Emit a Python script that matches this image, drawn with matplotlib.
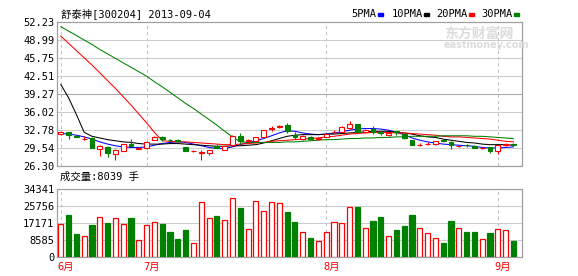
import matplotlib
matplotlib.use("Agg")
import matplotlib.pyplot as plt
from matplotlib.patches import Rectangle

# daily candles, mid June .. 2013-09-04 (one entry per trading day)
opens = [31.95, 32.3, 31.6, 31.15, 31.3, 29.4, 29.7, 28.5, 29.0, 30.3,
         29.35, 29.5, 31.0, 31.5, 30.95, 30.9, 29.6, 28.9, 28.65, 28.6,
         29.8, 29.2, 30.0, 31.6, 30.75, 30.8, 31.5, 32.95, 33.3, 33.6,
         31.9, 31.1, 31.5, 31.15, 31.5, 32.35, 32.4, 33.1, 33.8, 32.4,
         32.85, 32.4, 31.8, 32.5, 32.0, 30.9, 30.0, 30.2, 30.2, 30.85,
         30.6, 29.8, 30.05, 29.9, 29.45, 29.6, 29.0, 30.05, 30.15]
closes = [32.35, 31.9, 31.55, 31.2, 29.5, 29.8, 28.6, 29.1, 30.2, 29.9,
          29.5, 30.6, 31.5, 31.1, 30.9, 30.8, 28.9, 29.0, 28.75, 29.1,
          29.55, 29.9, 31.7, 30.7, 30.85, 31.4, 32.7, 33.05, 33.4, 32.6,
          31.4, 31.65, 31.05, 31.25, 32.0, 32.45, 33.3, 33.8, 32.4, 32.75,
          32.4, 32.2, 32.25, 32.4, 31.3, 30.0, 30.1, 30.3, 30.7, 30.75,
          30.1, 29.9, 30.0, 29.5, 29.55, 29.0, 29.95, 30.15, 30.1]
highs = [32.6, 32.4, 31.8, 31.6, 31.4, 30.0, 29.8, 29.3, 30.3, 31.2,
         29.6, 30.7, 31.6, 31.7, 31.1, 31.2, 29.7, 29.2, 29.1, 29.2,
         30.2, 30.1, 31.8, 32.2, 31.1, 31.5, 32.8, 33.4, 33.6, 34.0,
         32.3, 31.9, 31.6, 31.4, 32.1, 32.7, 33.4, 34.3, 33.9, 32.9,
         33.4, 32.5, 32.3, 32.6, 32.1, 31.0, 30.4, 30.5, 30.8, 31.0,
         30.7, 30.1, 30.2, 30.0, 29.7, 29.7, 30.0, 30.4, 30.4]
lows = [31.9, 31.1, 31.4, 30.9, 29.5, 28.0, 27.8, 27.4, 28.9, 29.8,
        29.3, 29.4, 30.9, 30.8, 30.7, 30.5, 28.9, 28.8, 27.4, 28.2,
        29.5, 29.1, 29.9, 30.3, 30.6, 30.7, 31.4, 32.6, 33.1, 32.2,
        31.2, 30.9, 31.0, 31.0, 31.4, 32.2, 32.3, 33.0, 32.3, 32.3,
        32.1, 31.8, 31.7, 31.9, 31.2, 29.95, 29.8, 30.1, 30.1, 30.5,
        29.4, 29.7, 29.7, 29.45, 29.4, 28.65, 28.4, 29.9, 29.9]
volumes = [16830, 21420, 11730, 10540, 16320, 20230, 17340, 19720, 16830, 19890,
           8670, 16150, 17680, 16830, 12750, 9180, 13770, 6970, 27880, 19720,
           20910, 18700, 29920, 24990, 14110, 28390, 23460, 27880, 27540, 22610,
           17850, 12750, 9690, 8160, 12750, 17850, 17340, 25500, 25500, 14790,
           18360, 20400, 10710, 13770, 15810, 21420, 14790, 12240, 9690, 7140,
           18360, 14790, 12750, 12750, 9180, 12240, 14280, 13770, 8039]

ma5 = [32.1, 32.0, 31.8, 31.5, 31.1, 30.6, 30.2, 29.9, 29.7, 29.6,
       29.6, 29.7, 30.0, 30.3, 30.5, 30.6, 30.5, 30.2, 29.9, 29.6,
       29.4, 29.4, 29.7, 30.1, 30.5, 30.8, 31.2, 31.7, 32.2, 32.6,
       32.5, 32.2, 32.0, 31.9, 32.0, 32.2, 32.4, 32.7, 32.9, 33.0,
       33.0, 32.9, 32.7, 32.3, 31.9, 31.3, 30.9, 30.6, 30.4, 30.2,
       30.1, 30.0, 29.9, 29.8, 29.6, 29.5, 29.5, 29.6, 29.7]
ma10 = [40.9, 38.5, 35.5, 32.3, 31.6, 31.3, 31.0, 30.8, 30.6, 30.5,
        30.3, 30.2, 30.2, 30.2, 30.3, 30.3, 30.2, 30.1, 30.0, 29.9,
        29.8, 29.8, 29.9, 29.9, 30.0, 30.1, 30.4, 30.8, 31.2, 31.6,
        31.8, 31.9, 31.9, 31.9, 32.0, 32.0, 32.1, 32.2, 32.3, 32.4,
        32.5, 32.5, 32.5, 32.3, 32.2, 32.0, 31.7, 31.5, 31.4, 31.1,
        30.9, 30.7, 30.5, 30.4, 30.2, 30.1, 30.1, 30.1, 30.0]
ma20 = [49.6, 48.3, 47.0, 45.7, 44.4, 43.0, 41.6, 40.2, 38.7, 37.2,
        35.6, 34.0, 32.3, 30.8, 30.7, 30.6, 30.6, 30.5, 30.4, 30.3,
        30.2, 30.1, 30.1, 30.2, 30.3, 30.4, 30.5, 30.7, 30.8, 30.9,
        31.0, 31.1, 31.2, 31.3, 31.5, 31.6, 31.8, 32.0, 32.1, 32.2,
        32.3, 32.3, 32.3, 32.2, 32.2, 32.1, 32.0, 31.9, 31.8, 31.6,
        31.5, 31.5, 31.4, 31.3, 31.2, 31.1, 30.9, 30.7, 30.6]
ma30 = [51.3, 50.5, 49.7, 48.9, 48.1, 47.2, 46.4, 45.6, 44.8, 44.0,
        43.2, 42.4, 41.4, 40.5, 39.5, 38.5, 37.5, 36.6, 35.6, 34.6,
        33.6, 32.5, 31.5, 30.6, 30.5, 30.5, 30.5, 30.5, 30.5, 30.6,
        30.6, 30.7, 30.8, 30.9, 31.0, 31.0, 31.1, 31.2, 31.2, 31.3,
        31.3, 31.4, 31.4, 31.5, 31.5, 31.6, 31.6, 31.6, 31.6, 31.7,
        31.7, 31.7, 31.7, 31.6, 31.6, 31.5, 31.4, 31.3, 31.2]

price_ticks = [52.23, 48.99, 45.75, 42.51, 39.27, 36.02, 32.78, 29.54, 26.30]
vol_ticks = [0, 8585, 17171, 25756, 34341]
month_idx = [0, 11, 34, 56]
month_labels = ["6月", "7月", "8月", "9月"]

RED = "#ff0000"
GREEN = "#008000"
GRID = "#cccccc"
FRAME = "#a0a0a0"
MONO = ["DejaVu Sans Mono", "Noto Sans CJK SC"]

W, H = 578, 276
fig = plt.figure(figsize=(W / 100, H / 100), dpi=100)
fig.patch.set_facecolor("white")

def px_axes(left, top, right, bottom):
    return fig.add_axes([left / W, 1 - bottom / H, (right - left) / W, (bottom - top) / H])

ax = px_axes(57, 21.5, 522, 165.8)
axv = px_axes(57, 189.3, 522, 256.7)

n = len(closes)
x = list(range(n))

for a in (ax, axv):
    a.set_xlim(-0.49, 59.1)
    for s in a.spines.values():
        s.set_color(FRAME)
        s.set_linewidth(0.9)
    a.set_xticks([])
    for m in month_idx:
        a.axvline(m, color="#c0c0c0", lw=0.75, ls=(0, (3, 3)), zorder=0)
    a.tick_params(axis="y", length=0, pad=2, labelsize=7.5)

# price panel
ax.set_ylim(26.30, 52.23)
ax.set_yticks(price_ticks)
ax.set_yticklabels(["%.2f" % t for t in price_ticks], family=MONO)
for t in price_ticks[1:-1]:
    ax.axhline(t, color="#a8a8a8" if t == 39.27 else GRID, lw=0.75, zorder=0)

ax.plot(x, ma5, color="#0000ff", lw=0.75, zorder=2)
ax.plot(x, ma10, color="black", lw=0.75, zorder=2)
ax.plot(x, ma20, color=RED, lw=0.75, zorder=2)
ax.plot(x, ma30, color=GREEN, lw=0.75, zorder=2)

bw = 0.62
for i in x:
    o, c, hi, lo = opens[i], closes[i], highs[i], lows[i]
    up = c >= o
    col = RED if up else GREEN
    ax.vlines(i, lo, hi, color=col, lw=0.8, zorder=3)
    ax.add_patch(Rectangle((i - bw / 2, min(o, c)), bw, max(abs(c - o), 0.02),
                           facecolor="white" if up else GREEN, edgecolor=col,
                           lw=0.8, zorder=4))

# volume panel
axv.set_ylim(0, 34341)
axv.set_yticks(vol_ticks)
axv.set_yticklabels([str(v) for v in vol_ticks], family=MONO)
for t in vol_ticks[1:-1]:
    axv.axhline(t, color=GRID, lw=0.75, zorder=0)
faces = ["white" if closes[i] >= opens[i] else GREEN for i in x]
edges = [RED if closes[i] >= opens[i] else GREEN for i in x]
axv.bar(x, volumes, width=0.66, color=faces, edgecolor=edges, linewidth=0.9, zorder=3)

for m, lab in zip(month_idx, month_labels):
    axv.annotate(lab, xy=(m, 0), xycoords=("data", "axes fraction"),
                 xytext=(-3, -10), textcoords="offset pixels",
                 ha="left", va="center", color=RED, fontsize=7.5, family=MONO)

# header texts
fig.text(61 / W, 1 - 13.5 / H, "舒泰神[300204] 2013-09-04", ha="left", va="center",
         fontsize=7.5, family=MONO)
fig.text(60 / W, 1 - 176.7 / H, "成交量:8039 手", ha="left", va="center",
         fontsize=7.5, family=MONO)

legend = [("5PMA", 351.7, "#0000ff"), ("10PMA", 391.7, "black"),
          ("20PMA", 436.7, RED), ("30PMA", 481.7, GREEN)]
for name, lx, col in legend:
    fig.text(lx / W, 1 - 14 / H, name, ha="left", va="center", fontsize=7.5, family=MONO)
    mx = lx + 6.2 * len(name) + 1
    fig.add_artist(Rectangle((mx / W, 1 - 15.5 / H), 5 / W, 2.5 / H,
                             transform=fig.transFigure, color=col))

# watermark
fig.text(444 / W, 1 - 34 / H, "东方财富网", ha="left", va="center", fontsize=10,
         weight="bold", color="#dcdcdc", family=["Noto Sans CJK SC"])
fig.text(444 / W, 1 - 45.5 / H, "eastmoney.com", ha="left", va="center", fontsize=7,
         weight="bold", color="#dcdcdc", family=["DejaVu Sans"])

fig.savefig("out.png", dpi=100, facecolor="white")
